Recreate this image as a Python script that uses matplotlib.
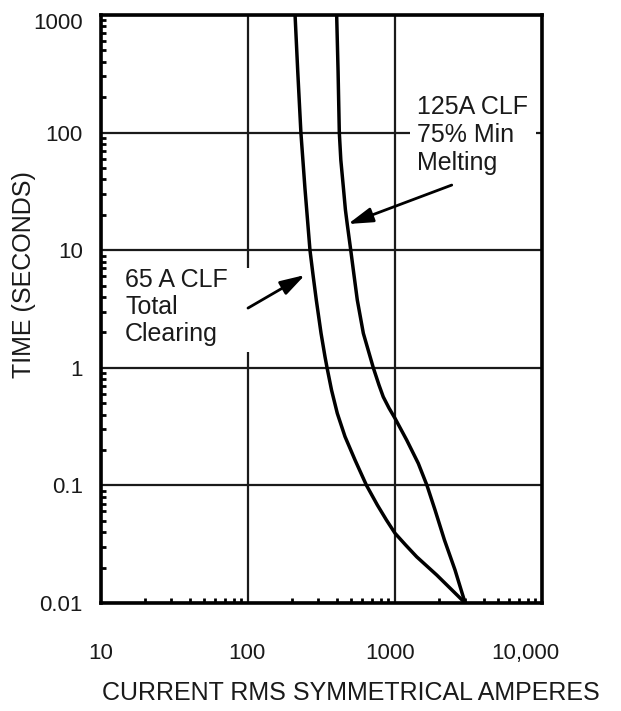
import matplotlib
matplotlib.use("Agg")
import matplotlib.pyplot as plt
import matplotlib.transforms as mtransforms
from matplotlib.patches import Rectangle
from matplotlib.ticker import LogLocator, NullFormatter

plt.rcParams["font.family"] = ["Liberation Sans", "DejaVu Sans"]

# 65 A CLF total clearing curve (amperes, seconds)
amps_65 = [209, 218, 229, 244, 264, 277, 291.5, 314, 334, 345, 370, 405, 457, 535,
           640, 759, 874, 1000, 1182, 1405, 1922, 2440, 3000]
secs_65 = [1000, 330, 100, 33.6, 10, 6.15, 3.77, 1.965, 1.243, 1, 0.647, 0.41, 0.26, 0.164,
           0.1, 0.068, 0.0508, 0.0392, 0.0311, 0.0247, 0.0173, 0.0129, 0.01]

# 125 A CLF 75% minimum melting curve
amps_125 = [401, 410, 418, 428, 446, 460, 474, 500, 526, 554, 609, 712, 778, 832, 910, 1000,
            1201, 1440, 1650, 1872, 2170, 2560, 3000]
secs_125 = [1000, 330, 100, 58.5, 33.6, 22, 16.4, 10, 6.15, 3.77, 1.965, 1, 0.714, 0.566,
            0.455, 0.372, 0.243, 0.154, 0.1, 0.0618, 0.0343, 0.0191, 0.01]

x_ticks = [10, 100, 1000, 10000]
x_labels = ["10", "100", "1000", "10,000"]
y_ticks = [0.01, 0.1, 1, 10, 100, 1000]
y_labels = ["0.01", "0.1", "1", "10", "100", "1000"]

fig = plt.figure(figsize=(6.21, 7.11), dpi=100)
ax = fig.add_axes([101/621, 108/711, 441/621, 588/711])
ax.set_xscale("log"); ax.set_yscale("log")
ax.set_xlim(10, 10000); ax.set_ylim(0.01, 1000)

for xs, ys in [(amps_65, secs_65), (amps_125, secs_125)]:
    ax.plot(xs, ys, color="black", lw=2.5, zorder=4, solid_joinstyle="round")

ax.set_xticks(x_ticks); ax.set_xticklabels(x_labels)
ax.set_yticks(y_ticks); ax.set_yticklabels(y_labels)
for a in (ax.xaxis, ax.yaxis):
    a.set_minor_locator(LogLocator(base=10, subs=range(2, 10)))
    a.set_minor_formatter(NullFormatter())
ax.tick_params(which="major", length=0, labelsize=16, colors="#1a1a1a")
ax.tick_params(axis="x", which="major", pad=29)
ax.tick_params(axis="y", which="major", pad=13)
ax.tick_params(which="minor", direction="in", length=3.5, width=2, color="black")
ax.grid(which="major", color="#1a1a1a", lw=1.6)
for s in ax.spines.values():
    s.set_linewidth(2.6); s.set_color("black")

# nudge tick labels to sit like the original
for lab, dx in zip(ax.get_xticklabels(), [0, -1, -3.6, -12.2]):
    lab.set_transform(lab.get_transform() + mtransforms.ScaledTranslation(dx/72, 0, fig.dpi_scale_trans))
for lab, dy in zip(ax.get_yticklabels(), [0, 0, 0, 0, 0, -4]):
    lab.set_transform(lab.get_transform() + mtransforms.ScaledTranslation(0, dy/72, fig.dpi_scale_trans))

arrow = dict(arrowstyle="-|>,head_length=1.5,head_width=0.45", mutation_scale=10,
             color="black", lw=2, shrinkA=0, shrinkB=0)

# labels
ax.text(1413, 209, "125A CLF\n75% Min\nMelting", fontsize=18, ha="left", va="top",
        color="#1a1a1a", zorder=3,
        bbox=dict(facecolor="white", edgecolor="none", boxstyle="square,pad=0.3"))
ax.annotate("", xy=(479, 16.7), xytext=(2432, 35.8), arrowprops=arrow, zorder=5)

ax.add_patch(Rectangle((9/441, 0.427), 146/441, 0.143, transform=ax.transAxes,
                       facecolor="white", edgecolor="none", zorder=2.2))
ax.text(14.6, 7.06, "65 A CLF\nTotal\nClearing", fontsize=18, ha="left", va="top",
        color="#1a1a1a", zorder=3, linespacing=1.15)
ax.annotate("", xy=(244, 6.15), xytext=(100, 3.22), arrowprops=arrow, zorder=5)

fig.text(24/621, 1 - 275/711, "TIME (SECONDS)", rotation=90, fontsize=18,
         ha="center", va="center", color="#1a1a1a")
fig.text(351/621, 11/711, "CURRENT RMS SYMMETRICAL AMPERES", fontsize=18,
         ha="center", va="baseline", color="#1a1a1a")

fig.savefig("out.png", dpi=100, facecolor="white")
